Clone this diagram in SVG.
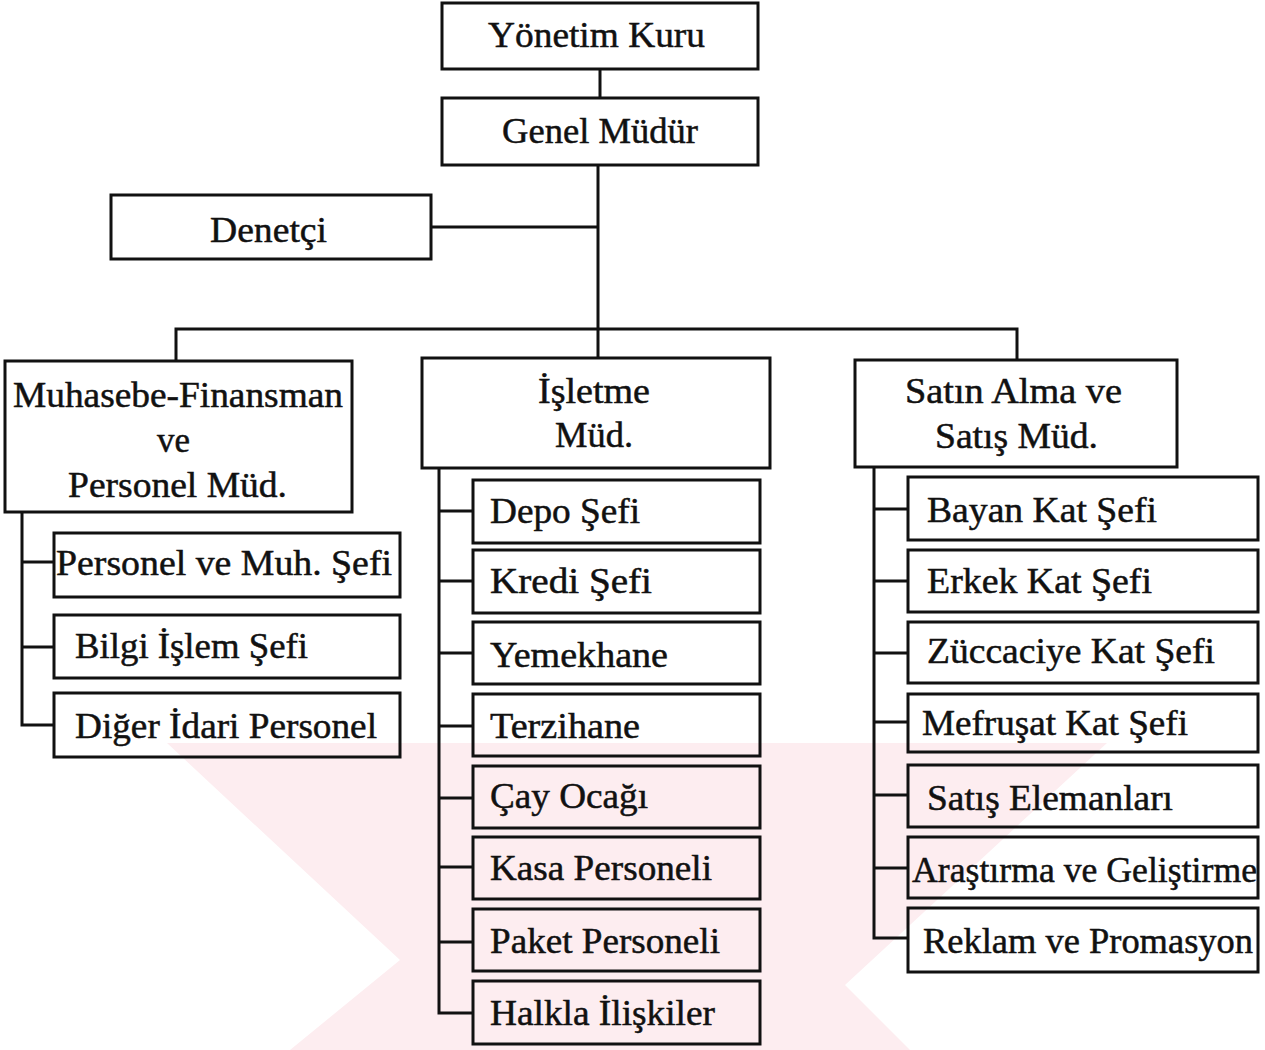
<svg xmlns="http://www.w3.org/2000/svg" width="1265" height="1050" viewBox="0 0 1265 1050">
<style>
.box{fill:none;stroke:#111;stroke-width:3}
.ln{fill:none;stroke:#111;stroke-width:3}
text{font-family:"Liberation Serif","Times New Roman",serif;font-size:36px;fill:#111;stroke:#111;stroke-width:0.5}
.wm{fill:#fdedf0;stroke:none}
</style>
<rect x="0" y="0" width="1265" height="1050" fill="#fff"/>
<g id="watermark">
<polygon class="wm" points="167,743 1107,743 845,985 910,1050 290,1050 400,960"/>
</g>
<g id="connectors">
<line class="ln" x1="600" y1="69" x2="600" y2="98"/>
<line class="ln" x1="598" y1="165" x2="598" y2="358"/>
<line class="ln" x1="431" y1="227" x2="598" y2="227"/>
<polyline class="ln" points="176,361 176,329 1017,329 1017,360"/>
<polyline class="ln" points="22,512 22,725 54,725"/>
<line class="ln" x1="22" y1="562" x2="54" y2="562"/>
<line class="ln" x1="22" y1="647" x2="54" y2="647"/>
<polyline class="ln" points="439,468 439,1013 473,1013"/>
<line class="ln" x1="439" y1="511" x2="473" y2="511"/>
<line class="ln" x1="439" y1="581" x2="473" y2="581"/>
<line class="ln" x1="439" y1="653" x2="473" y2="653"/>
<line class="ln" x1="439" y1="726" x2="473" y2="726"/>
<line class="ln" x1="439" y1="798" x2="473" y2="798"/>
<line class="ln" x1="439" y1="867" x2="473" y2="867"/>
<line class="ln" x1="439" y1="942" x2="473" y2="942"/>
<polyline class="ln" points="874,467 874,938 908,938"/>
<line class="ln" x1="874" y1="509" x2="908" y2="509"/>
<line class="ln" x1="874" y1="581" x2="908" y2="581"/>
<line class="ln" x1="874" y1="653" x2="908" y2="653"/>
<line class="ln" x1="874" y1="722" x2="908" y2="722"/>
<line class="ln" x1="874" y1="795" x2="908" y2="795"/>
<line class="ln" x1="874" y1="868" x2="908" y2="868"/>
</g>
<g id="yonetim"><rect class="box" x="442" y="3" width="316" height="66"/><text x="488" y="47" textLength="217" lengthAdjust="spacingAndGlyphs">Yönetim Kuru</text></g>
<g id="genel"><rect class="box" x="442" y="98" width="316" height="67"/><text x="502" y="143" textLength="196" lengthAdjust="spacingAndGlyphs">Genel Müdür</text></g>
<g id="denetci"><rect class="box" x="111" y="195" width="320" height="64"/><text x="210" y="242" textLength="117" lengthAdjust="spacingAndGlyphs">Denetçi</text></g>
<g id="muhasebe"><rect class="box" x="5" y="361" width="347" height="151"/>
<text x="13" y="407" textLength="330" lengthAdjust="spacingAndGlyphs">Muhasebe-Finansman</text><text x="157" y="452" textLength="33" lengthAdjust="spacingAndGlyphs">ve</text><text x="68" y="497" textLength="219" lengthAdjust="spacingAndGlyphs">Personel Müd.</text></g>
<g id="isletme"><rect class="box" x="422" y="358" width="348" height="110"/>
<text x="538" y="403" textLength="112" lengthAdjust="spacingAndGlyphs">İşletme</text><text x="555" y="447" textLength="78" lengthAdjust="spacingAndGlyphs">Müd.</text></g>
<g id="satin"><rect class="box" x="855" y="360" width="322" height="107"/>
<text x="905" y="403" textLength="217" lengthAdjust="spacingAndGlyphs">Satın Alma ve</text><text x="935" y="448" textLength="163" lengthAdjust="spacingAndGlyphs">Satış Müd.</text></g>
<g id="l1"><rect class="box" x="54" y="533" width="346" height="64"/><text x="56" y="575" textLength="336" lengthAdjust="spacingAndGlyphs">Personel ve Muh. Şefi</text></g>
<g id="l2"><rect class="box" x="54" y="615" width="346" height="63"/><text x="75" y="658" textLength="233" lengthAdjust="spacingAndGlyphs">Bilgi İşlem Şefi</text></g>
<g id="l3"><rect class="box" x="54" y="693" width="346" height="64"/><text x="75" y="738" textLength="302" lengthAdjust="spacingAndGlyphs">Diğer İdari Personel</text></g>
<g id="m1"><rect class="box" x="473" y="480" width="287" height="63"/><text x="490" y="523" textLength="150" lengthAdjust="spacingAndGlyphs">Depo Şefi</text></g>
<g id="m2"><rect class="box" x="473" y="550" width="287" height="63"/><text x="490" y="593" textLength="162" lengthAdjust="spacingAndGlyphs">Kredi Şefi</text></g>
<g id="m3"><rect class="box" x="473" y="622" width="287" height="62"/><text x="490" y="667" textLength="178" lengthAdjust="spacingAndGlyphs">Yemekhane</text></g>
<g id="m4"><rect class="box" x="473" y="694" width="287" height="62"/><text x="490" y="738" textLength="150" lengthAdjust="spacingAndGlyphs">Terzihane</text></g>
<g id="m5"><rect class="box" x="473" y="766" width="287" height="62"/><text x="490" y="808" textLength="158" lengthAdjust="spacingAndGlyphs">Çay Ocağı</text></g>
<g id="m6"><rect class="box" x="473" y="837" width="287" height="62"/><text x="490" y="880" textLength="222" lengthAdjust="spacingAndGlyphs">Kasa Personeli</text></g>
<g id="m7"><rect class="box" x="473" y="909" width="287" height="62"/><text x="490" y="953" textLength="230" lengthAdjust="spacingAndGlyphs">Paket Personeli</text></g>
<g id="m8"><rect class="box" x="473" y="981" width="287" height="63"/><text x="490" y="1025" textLength="225" lengthAdjust="spacingAndGlyphs">Halkla İlişkiler</text></g>
<g id="r1"><rect class="box" x="908" y="477" width="350" height="63"/><text x="927" y="522" textLength="230" lengthAdjust="spacingAndGlyphs">Bayan Kat Şefi</text></g>
<g id="r2"><rect class="box" x="908" y="550" width="350" height="62"/><text x="927" y="593" textLength="225" lengthAdjust="spacingAndGlyphs">Erkek Kat Şefi</text></g>
<g id="r3"><rect class="box" x="908" y="622" width="350" height="61"/><text x="927" y="663" textLength="288" lengthAdjust="spacingAndGlyphs">Züccaciye Kat Şefi</text></g>
<g id="r4"><rect class="box" x="908" y="694" width="350" height="58"/><text x="922" y="735" textLength="266" lengthAdjust="spacingAndGlyphs">Mefruşat Kat Şefi</text></g>
<g id="r5"><rect class="box" x="908" y="765" width="350" height="62"/><text x="927" y="810" textLength="246" lengthAdjust="spacingAndGlyphs">Satış Elemanları</text></g>
<g id="r6"><rect class="box" x="908" y="837" width="350" height="61"/><text x="912" y="882" textLength="345" lengthAdjust="spacingAndGlyphs">Araştırma ve Geliştirme</text></g>
<g id="r7"><rect class="box" x="908" y="908" width="350" height="64"/><text x="923" y="953" textLength="330" lengthAdjust="spacingAndGlyphs">Reklam ve Promasyon</text></g>
</svg>
